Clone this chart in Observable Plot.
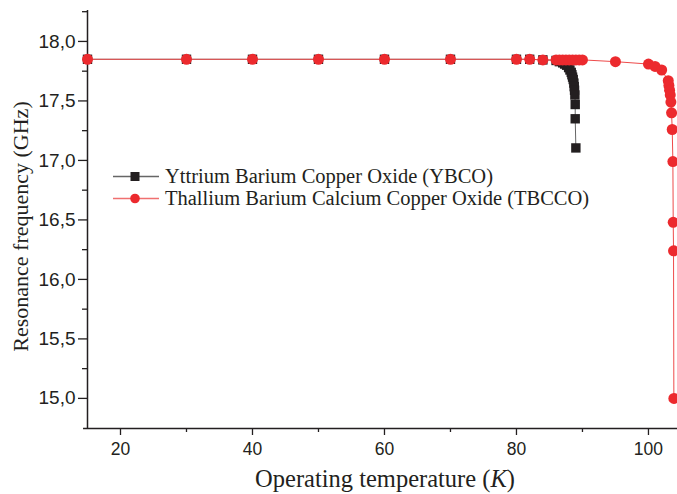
<!DOCTYPE html>
<html><head><meta charset="utf-8">
<script src="https://cdn.jsdelivr.net/npm/d3@7"></script>
<script src="https://cdn.jsdelivr.net/npm/@observablehq/plot@0.6"></script>
<style>
body{margin:0;background:#fff;}
#wrap{position:relative;width:677px;height:494px;overflow:hidden;}
.leg{position:absolute;left:113px;font-family:"Liberation Serif",serif;font-size:20.5px;color:#231f20;white-space:nowrap;display:flex;align-items:center;}
.leg svg{margin-right:6px;}
#xt{position:absolute;left:0;width:770px;text-align:center;top:465px;font-family:"Liberation Serif",serif;font-size:24.5px;color:#231f20;}
</style></head><body><div id="wrap"></div>
<script>
const ybcoT = [15, 30, 40, 50, 60, 70, 80, 82, 84, 86, 86.5, 87, 87.3, 87.6, 87.9, 88.1, 88.3, 88.4, 88.5, 88.6, 88.7, 88.75, 88.8, 88.85, 88.9, 88.9, 89.0];
const ybcoF = [17.85, 17.85, 17.85, 17.85, 17.85, 17.85, 17.85, 17.85, 17.845, 17.84, 17.83, 17.82, 17.81, 17.80, 17.78, 17.76, 17.74, 17.72, 17.70, 17.68, 17.65, 17.62, 17.59, 17.55, 17.47, 17.35, 17.105];
const tbccoT = [15, 30, 40, 50, 60, 70, 80, 82, 84, 86, 86.5, 87, 87.5, 88, 88.5, 89, 89.5, 90, 95, 100, 101, 102, 103, 103.1, 103.2, 103.3, 103.4, 103.5, 103.6, 103.7, 103.75, 103.8, 103.85];
const tbccoF = [17.85, 17.85, 17.85, 17.85, 17.85, 17.85, 17.85, 17.85, 17.845, 17.845, 17.845, 17.845, 17.845, 17.845, 17.845, 17.845, 17.845, 17.845, 17.83, 17.81, 17.79, 17.76, 17.67, 17.63, 17.59, 17.55, 17.49, 17.40, 17.26, 16.99, 16.48, 16.24, 15.0];
const xTicks = [20, 40, 60, 80, 100];
const xMinor = [30, 50, 70, 90];
const yTicks = [15, 15.5, 16, 16.5, 17, 17.5, 18];
const yMinor = [15.25, 15.75, 16.25, 16.75, 17.25, 17.75, 18.25];
const seriesNames = ["Yttrium Barium Copper Oxide (YBCO)", "Thallium Barium Calcium Copper Oxide (TBCCO)"];
const yLabel = "Resonance frequency (GHz)";

const ybco = ybcoT.map((t, i) => ({t, f: ybcoF[i]}));
const tbcco = tbccoT.map((t, i) => ({t, f: tbccoF[i]}));
const fmt = d => d.toFixed(1).replace(".", ",");
const ink = "#231f20", red = "#ec2a2e";
const sans = "Liberation Sans, Arial, sans-serif";

const chart = Plot.plot({
  width: 677, height: 494,
  marginLeft: 87, marginRight: 0, marginTop: 10, marginBottom: 66,
  x: {domain: [15, 104.4]},
  y: {domain: [14.747, 18.26]},
  style: {fontFamily: sans, fontSize: "17px", color: ink, background: "white"},
  marks: [
    Plot.axisX(xTicks, {tickSize: 7, tickPadding: 7, tickFormat: d => d, label: null, stroke: ink, strokeWidth: 1.3, fontSize: 17.5, fontFamily: sans, fill: ink}),
    Plot.axisX(xMinor, {tickSize: 4, tickFormat: () => "", label: null, stroke: ink, strokeWidth: 1.3}),
    Plot.axisY(yTicks, {tickSize: 9, tickPadding: 3, tickFormat: fmt, label: null, stroke: ink, strokeWidth: 1.3, fontSize: 19, fontFamily: sans, fill: ink}),
    Plot.axisY(yMinor, {tickSize: 5, tickFormat: () => "", label: null, stroke: ink, strokeWidth: 1.3}),
    Plot.ruleX([15], {stroke: ink, strokeWidth: 1.5}),
    Plot.ruleY([14.747], {x1: 14.4, x2: 104.4, stroke: ink, strokeWidth: 1.5, clip: false}),
    Plot.text([yLabel], {frameAnchor: "left", textAnchor: "middle", rotate: -90, dx: -67, dy: 7, fontFamily: "Liberation Serif, serif", fontSize: 22, fill: ink}),
    Plot.line(ybco, {x: "t", y: "f", stroke: "#666", strokeWidth: 1}),
    Plot.dot(ybco, {x: "t", y: "f", symbol: "square", r: 5.3, fill: ink, stroke: "none"}),
    Plot.line(tbcco, {x: "t", y: "f", stroke: "#ee4a4a", strokeWidth: 1}),
    Plot.dot(tbcco, {x: "t", y: "f", symbol: "circle", r: 5.5, fill: red, stroke: "none"})
  ]
});
const wrap = document.getElementById("wrap");
wrap.appendChild(chart);

function legendRow(name, top, sym, color, lineColor) {
  const d = document.createElement("div");
  d.className = "leg";
  d.style.top = top + "px";
  const s = sym === "square"
    ? `<rect x="17.5" y="4" width="9" height="9" fill="${color}"/>`
    : `<circle cx="22" cy="8.5" r="4.8" fill="${color}"/>`;
  d.innerHTML = `<svg width="46" height="17"><line x1="0" x2="46" y1="8.5" y2="8.5" stroke="${lineColor}" stroke-width="1.3"/>${s}</svg><span>${name}</span>`;
  wrap.appendChild(d);
}
legendRow(seriesNames[0], 165, "square", ink, "#666");
legendRow(seriesNames[1], 187, "circle", red, "#f07070");

const xt = document.createElement("div");
xt.id = "xt";
xt.innerHTML = "Operating temperature (<i>K</i>)";
wrap.appendChild(xt);
</script>
</body></html>
